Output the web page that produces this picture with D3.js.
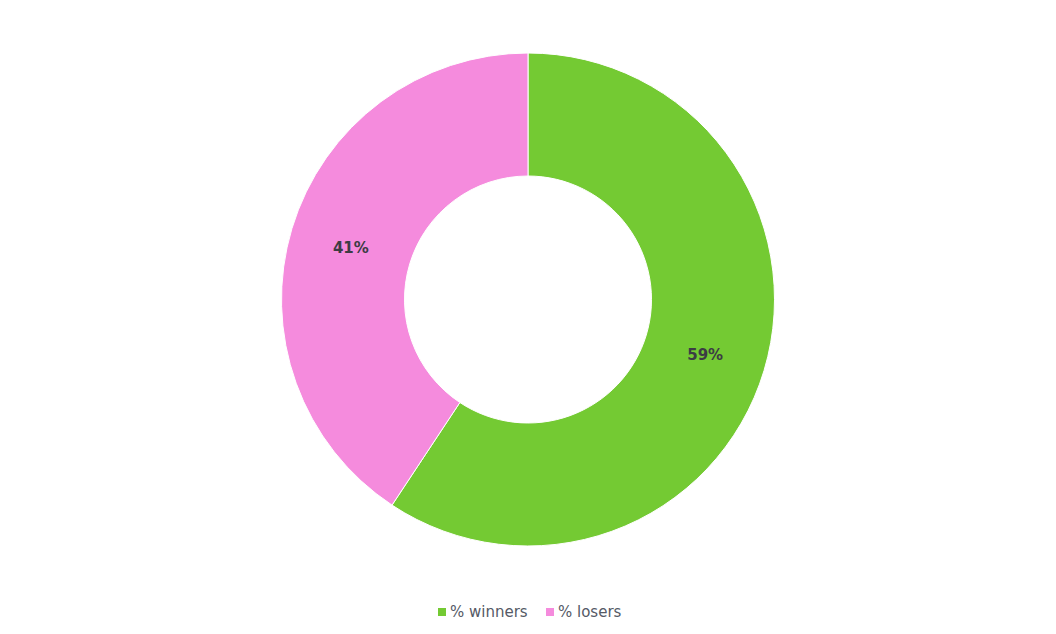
<!DOCTYPE html>
<html>
<head>
<meta charset="utf-8">
<script src="https://cdn.jsdelivr.net/npm/d3@7"></script>
<style>
  body { margin: 0; background: #fff; }
  text { font-family: "DejaVu Sans", sans-serif; }
</style>
</head>
<body>
<div id="chart"></div>
<script>
// Chart data
var categories = ["% winners", "% losers"];
var values = [59.3, 40.7];
var colors = ["#74ca33", "#f58bdd"];

// SVG size
var svgWidth = 1056;
var svgHeight = 634;

var cx = 528;
var cy = 299.5;
var outerRadius = 246.5;
var innerRadius = 123.5;

var svg = d3.select("#chart")
  .append("svg")
  .attr("width", svgWidth)
  .attr("height", svgHeight);

var pieGroup = svg.append("g")
  .attr("transform", `translate(${cx}, ${cy})`);

var pie = d3.pie().sort(null).value(d => d);
var arc = d3.arc().innerRadius(innerRadius).outerRadius(outerRadius);
var labelArc = d3.arc()
  .innerRadius((innerRadius + outerRadius) / 2)
  .outerRadius((innerRadius + outerRadius) / 2);

var arcs = pie(values);

// slices
pieGroup.selectAll("path")
  .data(arcs)
  .enter()
  .append("path")
  .attr("d", arc)
  .attr("fill", (d, i) => colors[i])
  .attr("stroke", "#fff")
  .attr("stroke-width", 1);

// slice labels
pieGroup.selectAll("text.label")
  .data(arcs)
  .enter()
  .append("text")
  .attr("class", "label")
  .attr("transform", d => `translate(${labelArc.centroid(d)})`)
  .attr("text-anchor", "middle")
  .attr("dy", "0.45em")
  .attr("font-size", 15)
  .attr("font-weight", "bold")
  .attr("fill", "#3c3c44")
  .text(d => Math.round(d.data) + "%");

// legend
var legend = svg.append("g")
  .attr("transform", "translate(438, 612)");

var legendX = [0, 108];

var items = legend.selectAll("g")
  .data(categories)
  .enter()
  .append("g")
  .attr("transform", (d, i) => `translate(${legendX[i]}, 0)`);

items.append("rect")
  .attr("x", 0)
  .attr("y", -4)
  .attr("width", 8)
  .attr("height", 8)
  .attr("fill", (d, i) => colors[i]);

items.append("text")
  .attr("x", 12)
  .attr("dy", "0.35em")
  .attr("font-size", 15)
  .attr("fill", "#555a66")
  .text(d => d);
</script>
</body>
</html>
